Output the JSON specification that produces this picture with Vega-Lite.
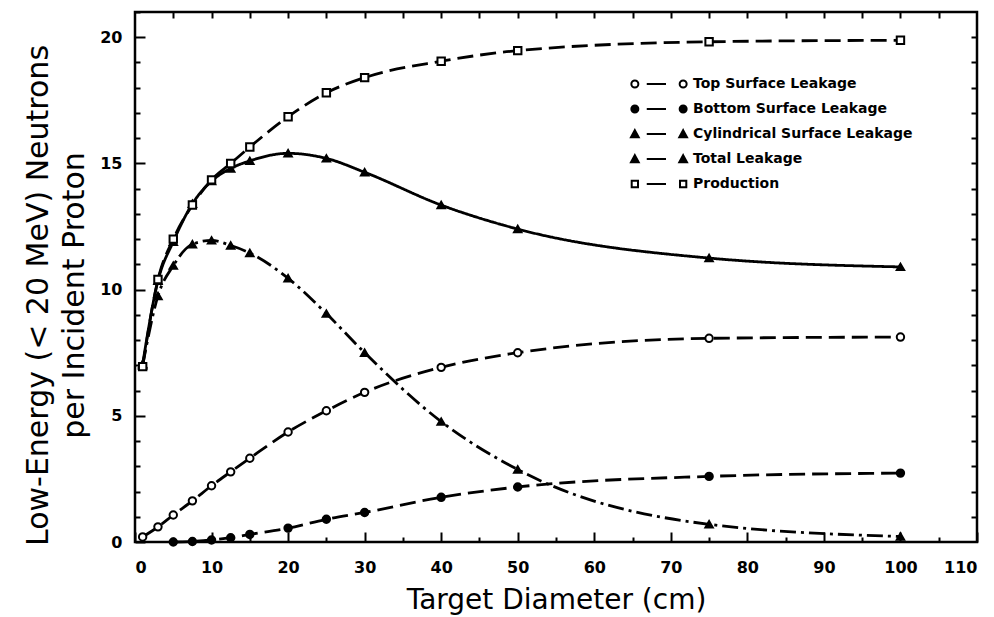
{
  "$schema": "https://vega.github.io/schema/vega-lite/v6.json",
  "width": 842,
  "height": 530,
  "autosize": {"type": "none"},
  "padding": {"left": 135, "top": 12, "right": 17, "bottom": 75},
  "background": "white",
  "config": {
    "view": {"stroke": "black", "strokeWidth": 2.5},
    "axis": {
      "domain": false, "grid": false, "tickColor": "black", "tickWidth": 2,
      "labelColor": "black", "titleColor": "black",
      "labelFont": "DejaVu Sans", "labelFontWeight": "bold", "labelFontSize": 16,
      "titleFont": "DejaVu Sans", "titleFontWeight": "normal", "titleFontSize": 28
    },
    "legend": {
      "orient": "none", "legendX": 517, "legendY": 65, "padding": 0,
      "symbolSize": 49, "symbolStrokeColor": "black", "symbolStrokeWidth": 2, "symbolOpacity": 1,
      "labelOffset": 27, "rowPadding": 9, "labelFont": "DejaVu Sans", "labelFontWeight": "bold", "labelFontSize": 14, "labelColor": "black", "labelLimit": 300
    }
  },
  "datasets": {
    "pts": [
      {"d": 1, "n": 0.2, "s": "Top Surface Leakage"},
      {"d": 3, "n": 0.6, "s": "Top Surface Leakage"},
      {"d": 5, "n": 1.07, "s": "Top Surface Leakage"},
      {"d": 7.5, "n": 1.63, "s": "Top Surface Leakage"},
      {"d": 10, "n": 2.23, "s": "Top Surface Leakage"},
      {"d": 12.5, "n": 2.78, "s": "Top Surface Leakage"},
      {"d": 15, "n": 3.32, "s": "Top Surface Leakage"},
      {"d": 20, "n": 4.36, "s": "Top Surface Leakage"},
      {"d": 25, "n": 5.2, "s": "Top Surface Leakage"},
      {"d": 30, "n": 5.93, "s": "Top Surface Leakage"},
      {"d": 40, "n": 6.92, "s": "Top Surface Leakage"},
      {"d": 50, "n": 7.5, "s": "Top Surface Leakage"},
      {"d": 75, "n": 8.07, "s": "Top Surface Leakage"},
      {"d": 100, "n": 8.12, "s": "Top Surface Leakage"},
      {"d": 5, "n": 0.0, "s": "Bottom Surface Leakage"},
      {"d": 7.5, "n": 0.02, "s": "Bottom Surface Leakage"},
      {"d": 10, "n": 0.08, "s": "Bottom Surface Leakage"},
      {"d": 12.5, "n": 0.17, "s": "Bottom Surface Leakage"},
      {"d": 15, "n": 0.3, "s": "Bottom Surface Leakage"},
      {"d": 20, "n": 0.55, "s": "Bottom Surface Leakage"},
      {"d": 25, "n": 0.9, "s": "Bottom Surface Leakage"},
      {"d": 30, "n": 1.17, "s": "Bottom Surface Leakage"},
      {"d": 40, "n": 1.77, "s": "Bottom Surface Leakage"},
      {"d": 50, "n": 2.18, "s": "Bottom Surface Leakage"},
      {"d": 75, "n": 2.6, "s": "Bottom Surface Leakage"},
      {"d": 100, "n": 2.73, "s": "Bottom Surface Leakage"},
      {"d": 1, "n": 7.0, "s": "Cylindrical Surface Leakage"},
      {"d": 3, "n": 9.75, "s": "Cylindrical Surface Leakage"},
      {"d": 5, "n": 10.95, "s": "Cylindrical Surface Leakage"},
      {"d": 7.5, "n": 11.8, "s": "Cylindrical Surface Leakage"},
      {"d": 10, "n": 11.95, "s": "Cylindrical Surface Leakage"},
      {"d": 12.5, "n": 11.75, "s": "Cylindrical Surface Leakage"},
      {"d": 15, "n": 11.45, "s": "Cylindrical Surface Leakage"},
      {"d": 20, "n": 10.45, "s": "Cylindrical Surface Leakage"},
      {"d": 25, "n": 9.05, "s": "Cylindrical Surface Leakage"},
      {"d": 30, "n": 7.5, "s": "Cylindrical Surface Leakage"},
      {"d": 40, "n": 4.77, "s": "Cylindrical Surface Leakage"},
      {"d": 50, "n": 2.87, "s": "Cylindrical Surface Leakage"},
      {"d": 75, "n": 0.7, "s": "Cylindrical Surface Leakage"},
      {"d": 100, "n": 0.22, "s": "Cylindrical Surface Leakage"},
      {"d": 1, "n": 7.05, "s": "Total Leakage"},
      {"d": 3, "n": 10.35, "s": "Total Leakage"},
      {"d": 5, "n": 11.9, "s": "Total Leakage"},
      {"d": 7.5, "n": 13.4, "s": "Total Leakage"},
      {"d": 10, "n": 14.3, "s": "Total Leakage"},
      {"d": 12.5, "n": 14.8, "s": "Total Leakage"},
      {"d": 15, "n": 15.1, "s": "Total Leakage"},
      {"d": 20, "n": 15.4, "s": "Total Leakage"},
      {"d": 25, "n": 15.2, "s": "Total Leakage"},
      {"d": 30, "n": 14.65, "s": "Total Leakage"},
      {"d": 40, "n": 13.35, "s": "Total Leakage"},
      {"d": 50, "n": 12.4, "s": "Total Leakage"},
      {"d": 75, "n": 11.25, "s": "Total Leakage"},
      {"d": 100, "n": 10.9, "s": "Total Leakage"},
      {"d": 1, "n": 6.95, "s": "Production"},
      {"d": 3, "n": 10.4, "s": "Production"},
      {"d": 5, "n": 12.0, "s": "Production"},
      {"d": 7.5, "n": 13.35, "s": "Production"},
      {"d": 10, "n": 14.35, "s": "Production"},
      {"d": 12.5, "n": 15.0, "s": "Production"},
      {"d": 15, "n": 15.65, "s": "Production"},
      {"d": 20, "n": 16.85, "s": "Production"},
      {"d": 25, "n": 17.8, "s": "Production"},
      {"d": 30, "n": 18.4, "s": "Production"},
      {"d": 40, "n": 19.05, "s": "Production"},
      {"d": 50, "n": 19.47, "s": "Production"},
      {"d": 75, "n": 19.82, "s": "Production"},
      {"d": 100, "n": 19.88, "s": "Production"}
    ]
  },
  "data": {"name": "pts"},
  "resolve": {"axis": {"x": "independent", "y": "independent"}},
  "layer": [
    {
      "mark": {"type": "line", "interpolate": "monotone", "strokeWidth": 2.8, "color": "black"},
      "encoding": {
        "x": {"field": "d", "type": "quantitative", "scale": {"domain": [0, 110], "nice": false},
          "axis": {"orient": "bottom", "values": [0, 10, 20, 30, 40, 50, 60, 70, 80, 90, 100, 110], "tickSize": -10, "labelPadding": 27, "title": "Target Diameter (cm)", "titlePadding": 11}},
        "y": {"field": "n", "type": "quantitative", "scale": {"domain": [0, 21], "nice": false},
          "axis": {"orient": "left", "values": [0, 5, 10, 15, 20], "tickSize": -10, "labelPadding": 23, "title": ["Low-Energy (< 20 MeV) Neutrons", "per Incident Proton"], "titleFontSize": 30, "titlePadding": 10, "titleLineHeight": 36, "titleY": 283}},
        "detail": {"field": "s", "type": "nominal"},
        "strokeDash": {
          "condition": [
            {"test": "datum.s == 'Total Leakage'", "value": [1, 0]},
            {"test": "datum.s == 'Cylindrical Surface Leakage'", "value": [16, 5, 3, 5]}
          ],
          "value": [16, 7]}
      }
    },
    {
      "mark": {"type": "point", "stroke": "black", "strokeWidth": 2, "size": 55, "opacity": 1, "fillOpacity": 1},
      "encoding": {
        "x": {"field": "d", "type": "quantitative",
          "axis": {"orient": "bottom", "values": [5, 15, 25, 35, 45, 55, 65, 75, 85, 95, 105], "tickSize": -5, "labels": false, "title": null}},
        "y": {"field": "n", "type": "quantitative",
          "axis": {"orient": "left", "values": [1, 2, 3, 4, 6, 7, 8, 9, 11, 12, 13, 14, 16, 17, 18, 19, 21], "tickSize": -5, "labels": false, "title": null}},
        "shape": {
          "condition": [
            {"test": "datum.s == 'Production'", "value": "square"},
            {"test": "datum.s == 'Cylindrical Surface Leakage' || datum.s == 'Total Leakage'", "value": "triangle-up"}
          ],
          "value": "circle"},
        "fill": {
          "condition": {"test": "datum.s == 'Top Surface Leakage' || datum.s == 'Production'", "value": "white"},
          "value": "black"}
      }
    },
    {
      "transform": [{"filter": "datum.d > 1000"}],
      "mark": {"type": "point", "stroke": "black", "strokeWidth": 2, "opacity": 1, "fillOpacity": 1},
      "encoding": {
        "x": {"field": "d", "type": "quantitative",
          "axis": {"orient": "top", "values": [5, 10, 15, 20, 25, 30, 35, 40, 45, 50, 55, 60, 65, 70, 75, 80, 85, 90, 95, 100, 105], "tickSize": -6, "labels": false, "title": null}},
        "y": {"field": "n", "type": "quantitative",
          "axis": {"orient": "right", "values": [1, 2, 3, 4, 5, 6, 7, 8, 9, 10, 11, 12, 13, 14, 15, 16, 17, 18, 19, 20], "tickSize": -6, "labels": false, "title": null}},
        "shape": {"field": "s", "type": "nominal",
          "scale": {"domain": ["Top Surface Leakage", "Bottom Surface Leakage", "Cylindrical Surface Leakage", "Total Leakage", "Production"],
            "range": [
              "M-5.9,0A1,1,0,1,0,-7.9,0A1,1,0,1,0,-5.9,0M-3.5,0H2M7.9,0A1,1,0,1,0,5.9,0A1,1,0,1,0,7.9,0",
              "M-5.9,0A1,1,0,1,0,-7.9,0A1,1,0,1,0,-5.9,0M-3.5,0H2M7.9,0A1,1,0,1,0,5.9,0A1,1,0,1,0,7.9,0",
              "M-6.9,-1.1L-5.8,0.9L-8,0.9ZM-3.5,0H2M6.9,-1.1L8,0.9L5.8,0.9Z",
              "M-6.9,-1.1L-5.8,0.9L-8,0.9ZM-3.5,0H2M6.9,-1.1L8,0.9L5.8,0.9Z",
              "M-7.8,-0.9H-6V0.9H-7.8ZM-3.5,0H2M6,-0.9H7.8V0.9H6Z"
            ]},
          "legend": {"title": null}},
        "fill": {"field": "s", "type": "nominal",
          "scale": {"domain": ["Top Surface Leakage", "Bottom Surface Leakage", "Cylindrical Surface Leakage", "Total Leakage", "Production"],
            "range": ["white", "black", "black", "black", "white"]},
          "legend": {"title": null}},
        "stroke": {"field": "s", "type": "nominal",
          "scale": {"domain": ["Top Surface Leakage", "Bottom Surface Leakage", "Cylindrical Surface Leakage", "Total Leakage", "Production"],
            "range": ["black", "black", "black", "black", "black"]},
          "legend": {"title": null}}
      }
    }
  ]
}
